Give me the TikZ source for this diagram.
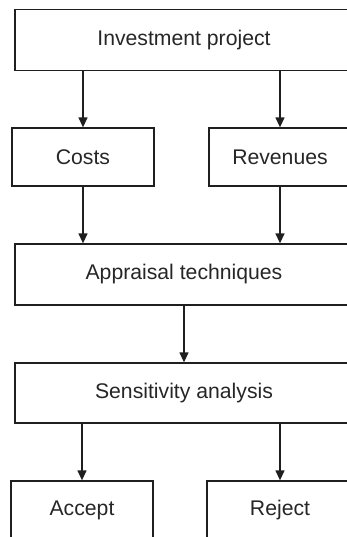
\documentclass[tikz,border=0pt]{standalone}
\usepackage{fontspec}
\setmainfont{Liberation Sans}
\usetikzlibrary{arrows.meta}
\colorlet{Linecol}{black!88}
\colorlet{Textcol}{black!85}
\def\boxlw{0.65pt}

\begin{document}
\begin{tikzpicture}[x=0.5pt, y=-0.5pt,
  box/.style={draw=Linecol, line width=\boxlw, text=Textcol, inner sep=0pt,
    font=\fontsize{10.6}{12}\selectfont},
  widebox/.style={box, minimum width=169pt, minimum height=30.5pt},
  halfbox/.style={box, minimum width=71pt, minimum height=29pt},
  flow/.style={line width=\boxlw, Linecol, -{Triangle[length=5pt, width=4.5pt]}}]
  \clip (0,0) rectangle (347,537);

  \node[widebox] (invest) at (184, 40) {Investment project};
  \node[halfbox] (costs) at (83, 157) {Costs};
  \node[halfbox] (revenues) at (280, 157) {Revenues};
  \node[widebox] (appraisal) at (184, 274.5) {Appraisal techniques};
  \node[widebox, minimum height=30pt] (sensitivity) at (184, 393) {Sensitivity analysis};
  \node[halfbox] (accept) at (82, 510) {Accept};
  \node[halfbox, minimum width=73pt] (reject) at (280, 510) {Reject};

  \draw[flow] (costs |- invest.south) -- (costs.north);
  \draw[flow] (revenues |- invest.south) -- (revenues.north);
  \draw[flow] (costs.south) -- (costs |- appraisal.north);
  \draw[flow] (revenues.south) -- (revenues |- appraisal.north);
  \draw[flow] (appraisal) -- (sensitivity);
  \draw[flow] (accept |- sensitivity.south) -- (accept.north);
  \draw[flow] (reject |- sensitivity.south) -- (reject.north);
\end{tikzpicture}
\end{document}
